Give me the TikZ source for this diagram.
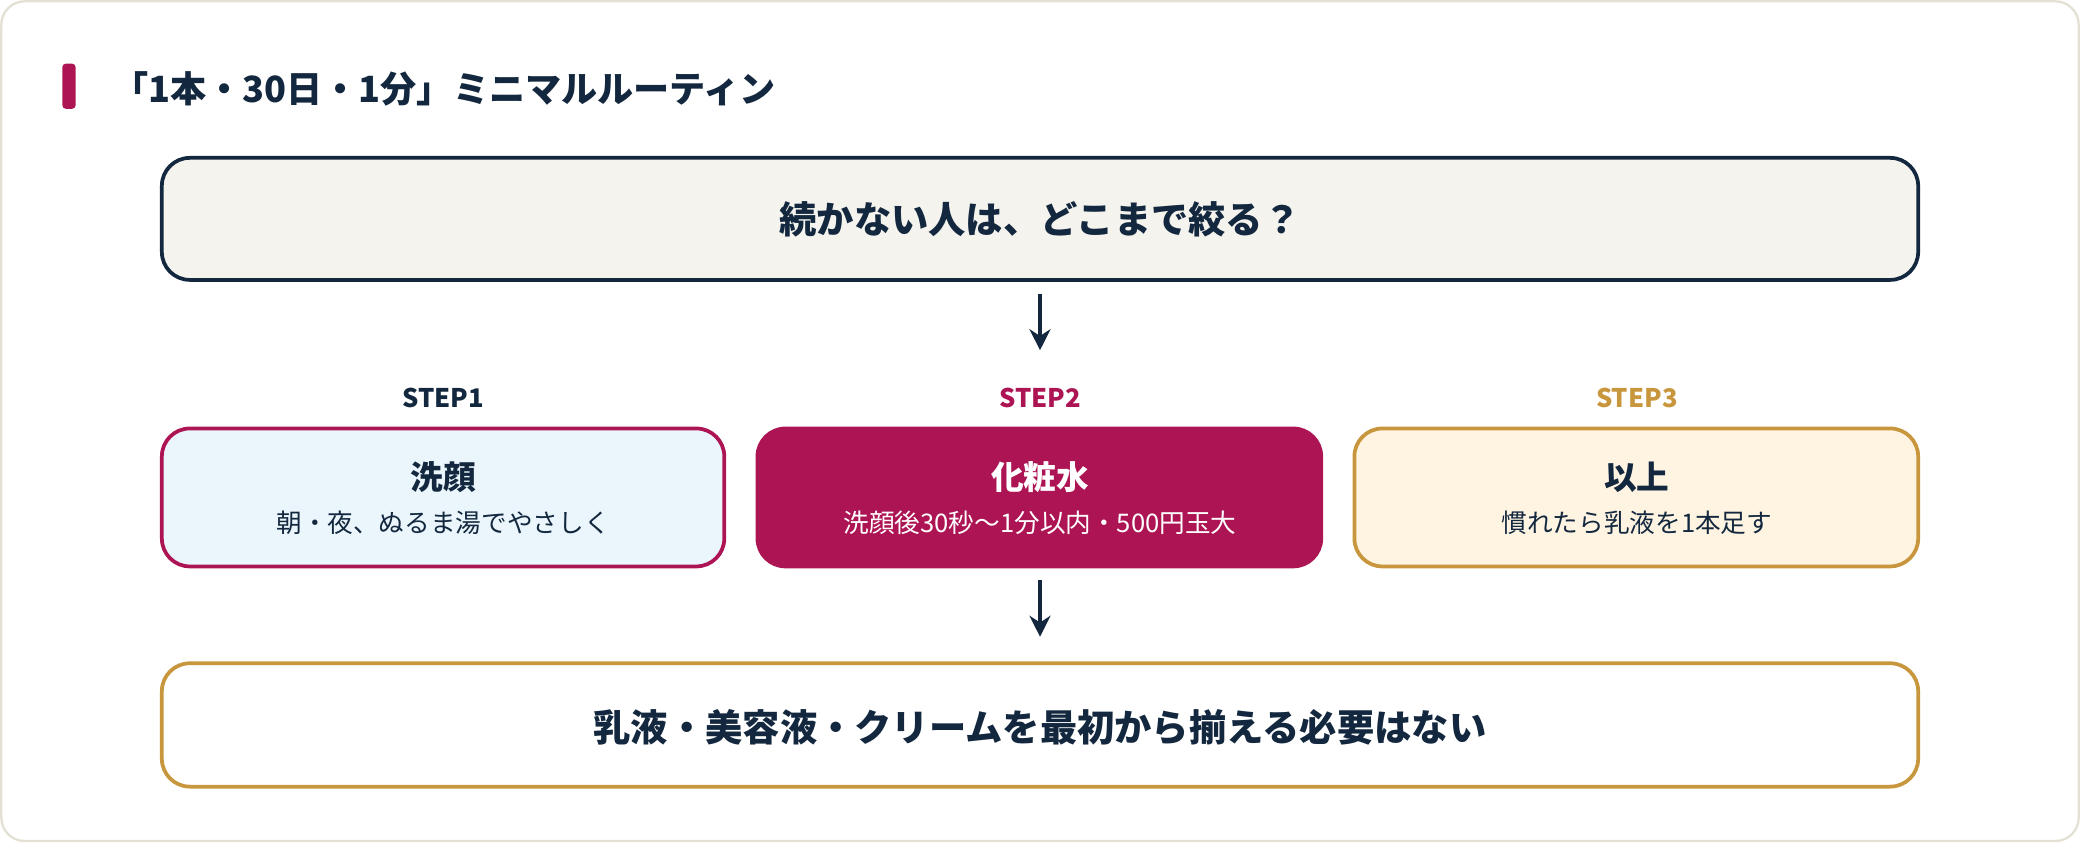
\documentclass[tikz,border=0pt]{standalone}
\usepackage{fontspec}
\setmainfont{Noto Sans CJK JP}
\usepackage{tikz}
\usetikzlibrary{arrows.meta}
\definecolor{navy}{HTML}{13283F}
\definecolor{crimson}{HTML}{AD1453}
\definecolor{gold}{HTML}{C8963C}
\definecolor{paper}{HTML}{F5F3EE}
\definecolor{skyfill}{HTML}{EAF6FC}
\definecolor{creamfill}{HTML}{FFF4E2}
\definecolor{cardline}{HTML}{E4E1D4}

\begin{document}
\begin{tikzpicture}[x=0.02cm, y=-0.02cm, thick,
  box/.style={rounded corners=12pt, line width=1.6pt},
  down/.style={-{Stealth[length=9pt,width=9pt]}, line width=1.6pt, color=navy},
  steplbl/.style={font=\fontsize{11}{13}\selectfont\bfseries},
  boxhead/.style={font=\fontsize{14}{16}\selectfont\bfseries},
  boxsub/.style={font=\fontsize{11}{13}\selectfont}]
%%%%% Card %%%%%
\useasboundingbox (0,0) rectangle (1568,635);
\draw[cardline, fill=white, rounded corners=10pt, line width=1pt] (1,1) rectangle (1567,634);
\fill[crimson, rounded corners=1.5pt] (47,48) rectangle (57,82);
\node[anchor=west, text=navy, font=\fontsize{15.5}{18}\selectfont\bfseries] (title) at (78,67) {「1本・30日・1分」ミニマルルーティン};
%%%%% Question %%%%%
\draw[box, draw=navy, fill=paper] (122,119) rectangle (1446,211);
\node[text=navy, font=\fontsize{16}{18}\selectfont\bfseries] (ask) at (784,165) {続かない人は、どこまで絞る？};
\coordinate (askbot) at (784,222);
\coordinate (stepstop) at (784,264);
\draw[down] (askbot) -- (stepstop);
%%%%% Steps %%%%%
\node[steplbl, text=navy] (s1) at (334,300) {STEP1};
\node[steplbl, text=crimson] (s2) at (784,300) {STEP2};
\node[steplbl, text=gold] (s3) at (1234,300) {STEP3};
\draw[box, draw=crimson, fill=skyfill] (122,323) rectangle (546,427);
\draw[box, draw=crimson, fill=crimson] (571,323) rectangle (996,427);
\draw[box, draw=gold, fill=creamfill] (1021,323) rectangle (1446,427);
\node[boxhead, text=navy] (wash) at (334,360) {洗顔};
\node[boxsub, text=navy] (washsub) at (334,394) {朝・夜、ぬるま湯でやさしく};
\node[boxhead, text=white] (toner) at (784,360) {化粧水};
\node[boxsub, text=white] (tonersub) at (784,394) {洗顔後30秒〜1分以内・500円玉大};
\node[boxhead, text=navy] (more) at (1234,360) {以上};
\node[boxsub, text=navy] (moresub) at (1234,394) {慣れたら乳液を1本足す};
\coordinate (stepsbot) at (784,437);
\coordinate (endtop) at (784,480);
\draw[down] (stepsbot) -- (endtop);
%%%%% Conclusion %%%%%
\draw[box, draw=gold, fill=white] (122,500) rectangle (1446,593);
\node[text=navy, font=\fontsize{16}{18}\selectfont\bfseries] (answer) at (784,548) {乳液・美容液・クリームを最初から揃える必要はない};
\end{tikzpicture}
\end{document}
